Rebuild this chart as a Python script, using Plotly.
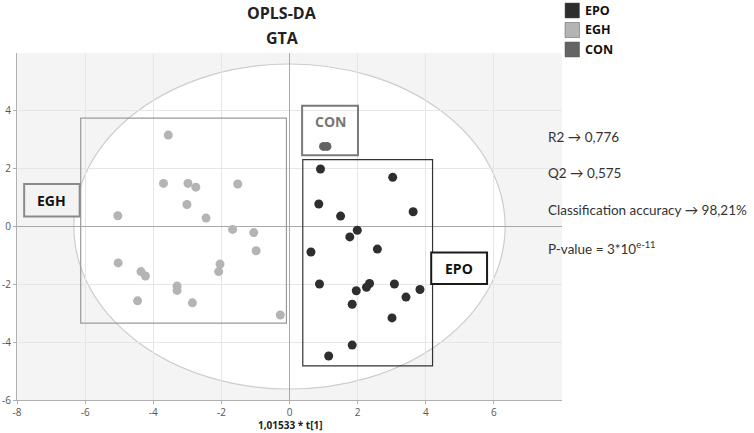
import plotly.graph_objects as go

# ---------------- data ----------------
categories = ["EPO", "EGH", "CON"]
colors = ["#2e2e2e", "#b4b4b4", "#646464"]

epo_x = [0.91, 3.03, 0.86, 1.50, 3.63, 1.99, 1.77, 0.63, 2.58, 0.88, 2.35, 2.26, 1.96, 3.08, 3.83, 3.42, 1.84, 3.01, 1.84, 1.15]
epo_y = [1.99, 1.70, 0.78, 0.36, 0.51, -0.13, -0.36, -0.88, -0.78, -1.99, -1.97, -2.10, -2.22, -1.99, -2.18, -2.44, -2.69, -3.16, -4.10, -4.48]

egh_x = [-3.56, -3.70, -2.98, -2.75, -1.52, -3.01, -5.04, -2.45, -1.67, -1.05, -0.98, -5.03, -4.36, -4.23, -2.04, -2.08, -3.30, -3.30, -4.46, -2.85, -0.27]
egh_y = [3.16, 1.49, 1.49, 1.36, 1.47, 0.76, 0.37, 0.29, -0.10, -0.21, -0.84, -1.26, -1.56, -1.71, -1.30, -1.56, -2.06, -2.21, -2.57, -2.64, -3.06]

con_x = [1.00, 1.10]
con_y = [2.77, 2.77]

# group boxes (data units): x0, x1, y0, y1
group_boxes = {
    "EGH": (-6.13, -0.09, -3.34, 3.75),
    "EPO": (0.39, 4.20, -4.82, 2.31),
}
label_boxes = {
    "EGH": (-7.79, -6.16, 0.35, 1.47),
    "CON": (0.37, 2.01, 2.46, 4.18),
    "EPO": (4.16, 5.80, -1.99, -0.90),
}

# Hotelling T2 ellipse half-axes
ell_a, ell_b = 6.33, 5.62

x_ticks = [-8, -6, -4, -2, 0, 2, 4, 6]
y_ticks = [-6, -4, -2, 0, 2, 4]

stats_lines = [
    "R2 \u2192 0,776",
    "Q2 \u2192 0,575",
    "Classification accuracy \u2192 98,21%",
    "P-value = 3*10<sup>e-11</sup>",
]

# ---------------- figure ----------------
FONT = "Open Sans"
fig = go.Figure()

series = {"EPO": (epo_x, epo_y), "EGH": (egh_x, egh_y), "CON": (con_x, con_y)}
for cat, col in zip(categories, colors):
    xs, ys = series[cat]
    fig.add_trace(go.Scatter(
        x=xs, y=ys, mode="markers", name=cat, showlegend=False,
        marker=dict(color=col, size=9, line=dict(width=0)),
    ))

shapes = []
# ellipse (white inside)
shapes.append(dict(type="circle", xref="x", yref="y", x0=-ell_a, x1=ell_a, y0=-ell_b, y1=ell_b,
                   fillcolor="white", line=dict(color="#cdcdcd", width=1.2), layer="below"))
# group boxes
shapes.append(dict(type="rect", xref="x", yref="y",
                   x0=group_boxes["EGH"][0], x1=group_boxes["EGH"][1],
                   y0=group_boxes["EGH"][2], y1=group_boxes["EGH"][3],
                   line=dict(color="#9a9a9a", width=1.2), layer="above"))
shapes.append(dict(type="rect", xref="x", yref="y",
                   x0=group_boxes["EPO"][0], x1=group_boxes["EPO"][1],
                   y0=group_boxes["EPO"][2], y1=group_boxes["EPO"][3],
                   line=dict(color="#333333", width=1.2), layer="above"))
# label boxes
label_style = {
    "EGH": dict(line="#8a8a8a", fill="#f3f3f3", text="#111111"),
    "CON": dict(line="#7a7a7a", fill="rgba(0,0,0,0)", text="#777777"),
    "EPO": dict(line="#1a1a1a", fill="white", text="#111111"),
}
for cat, (x0, x1, y0, y1) in label_boxes.items():
    st = label_style[cat]
    shapes.append(dict(type="rect", xref="x", yref="y", x0=x0, x1=x1, y0=y0, y1=y1,
                       line=dict(color=st["line"], width=2), fillcolor=st["fill"], layer="above"))

annotations = []
# label texts
annotations.append(dict(x=(label_boxes["EGH"][0] + label_boxes["EGH"][1]) / 2,
                        y=(label_boxes["EGH"][2] + label_boxes["EGH"][3]) / 2,
                        xref="x", yref="y", text="<b>EGH</b>", showarrow=False,
                        font=dict(family=FONT, size=14, color="#111111")))
annotations.append(dict(x=(label_boxes["CON"][0] + label_boxes["CON"][1]) / 2,
                        y=3.62, xref="x", yref="y", text="<b>CON</b>", showarrow=False,
                        font=dict(family=FONT, size=14, color="#777777")))
annotations.append(dict(x=(label_boxes["EPO"][0] + label_boxes["EPO"][1]) / 2,
                        y=(label_boxes["EPO"][2] + label_boxes["EPO"][3]) / 2,
                        xref="x", yref="y", text="<b>EPO</b>", showarrow=False,
                        font=dict(family=FONT, size=14, color="#111111")))

# title
annotations.append(dict(x=0.487, y=1.115, xref="paper", yref="paper", yanchor="middle",
                        text="<b>OPLS-DA</b>", showarrow=False,
                        font=dict(family=FONT, size=16, color="#222222")))
annotations.append(dict(x=0.487, y=1.043, xref="paper", yref="paper", yanchor="middle",
                        text="<b>GTA</b>", showarrow=False,
                        font=dict(family=FONT, size=16, color="#222222")))

# x-axis title
annotations.append(dict(x=0.5, y=-0.072, xref="paper", yref="paper", yanchor="middle",
                        text="<b>1,01533 * t[1]</b>", showarrow=False,
                        font=dict(family=FONT, size=10, color="#222222")))

# stats text
stats_py = [137, 173, 210, 248]
for line, py in zip(stats_lines, stats_py):
    annotations.append(dict(x=(546 - 17) / 545, y=(400 - py) / 347, xref="paper", yref="paper",
                            xanchor="left", yanchor="middle", text=line, showarrow=False,
                            font=dict(family="Lato", size=13.5, color="#333333")))

# manual legend
for i, (cat, col) in enumerate(zip(categories, colors)):
    top = 3 + i * 19.5
    shapes.append(dict(type="rect", xref="paper", yref="paper",
                       x0=(565 - 17) / 545, x1=(579.5 - 17) / 545,
                       y0=(400 - top - 15) / 347, y1=(400 - top) / 347,
                       fillcolor=col, line=dict(color="#555555", width=0.5)))
    annotations.append(dict(x=(583 - 17) / 545, y=(400 - top - 7.5) / 347, xref="paper", yref="paper",
                            xanchor="left", yanchor="middle", text=f"<b>{cat}</b>", showarrow=False,
                            font=dict(family=FONT, size=12.5, color="#111111")))

fig.update_layout(
    width=754, height=433,
    margin=dict(l=17, r=192, t=53, b=33),
    paper_bgcolor="white",
    plot_bgcolor="#f4f4f4",
    shapes=shapes,
    annotations=annotations,
    showlegend=False,
    font=dict(family=FONT),
)
fig.update_xaxes(range=[-8, 8], tickvals=x_ticks, ticktext=[str(v) for v in x_ticks],
                 showgrid=True, gridcolor="#e6e6e6", gridwidth=1,
                 zeroline=True, zerolinecolor="#a9a9a9", zerolinewidth=1,
                 showline=True, linecolor="#b0b0b0", linewidth=1,
                 ticks="outside", ticklen=3, tickcolor="#b0b0b0",
                 tickfont=dict(family=FONT, size=10, color="#555555"), automargin=False,
                 fixedrange=True)
fig.update_yaxes(range=[-6, 6], tickvals=y_ticks, ticktext=[str(v) for v in y_ticks],
                 showgrid=True, gridcolor="#e6e6e6", gridwidth=1,
                 zeroline=True, zerolinecolor="#a9a9a9", zerolinewidth=1,
                 showline=True, linecolor="#b0b0b0", linewidth=1,
                 ticks="outside", ticklen=3, tickcolor="#b0b0b0",
                 tickfont=dict(family=FONT, size=10, color="#555555"), automargin=False,
                 fixedrange=True)

fig.write_html("out.html", config={"displayModeBar": False},
               post_script="document.body.style.margin='0';document.body.style.overflow='hidden';")
